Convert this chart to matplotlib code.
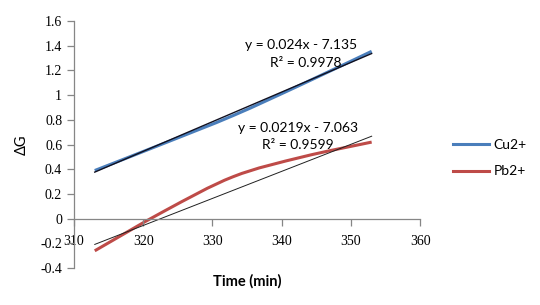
import matplotlib
matplotlib.use("Agg")
import matplotlib.pyplot as plt
from matplotlib.path import Path
from matplotlib.patches import PathPatch
import numpy as np

# tick labels in a serif face, everything else set to Lato below
plt.rcParams['font.family'] = ['Liberation Serif', 'DejaVu Serif']

time = [313, 323, 333, 343, 353]
cu = [0.39, 0.61, 0.835, 1.09, 1.355]
pb = [-0.26, 0.06, 0.34, 0.50, 0.62]

# trendline coefficients as shown on the chart
cu_fit = (0.024, -7.135)
pb_fit = (0.0219, -7.063)
cu_eq = ["y = 0.024x - 7.135", "R² = 0.9978"]
pb_eq = ["y = 0.0219x - 7.063", "R² = 0.9599"]


def smooth_path(xs, ys):
    # excel style smoothed line: catmull-rom as cubic bezier
    pts = np.column_stack([xs, ys]).astype(float)
    ext = np.vstack([pts[0], pts, pts[-1]])
    verts = [pts[0]]
    codes = [Path.MOVETO]
    for i in range(1, len(ext) - 2):
        p0, p1, p2, p3 = ext[i - 1], ext[i], ext[i + 1], ext[i + 2]
        verts += [p1 + (p2 - p0) / 6, p2 - (p3 - p1) / 6, p2]
        codes += [Path.CURVE4] * 3
    return Path(verts, codes)


fig = plt.figure(figsize=(5.4, 3.05), dpi=100)
ax = fig.add_axes([0.137, 0.121, 0.641, 0.810])

ax.add_patch(PathPatch(smooth_path(time, cu), fill=False, edgecolor='#4a7ebb', lw=2.2))
ax.add_patch(PathPatch(smooth_path(time, pb), fill=False, edgecolor='#be4b48', lw=2.2))

tx = np.array([time[0], time[-1]])
ax.plot(tx, cu_fit[0] * tx + cu_fit[1], color='#101020', lw=1.0)
ax.plot(tx, pb_fit[0] * tx + pb_fit[1], color='#202020', lw=0.7)

ax.plot([], [], color='#4a7ebb', lw=2.2, label='Cu2+')
ax.plot([], [], color='#be4b48', lw=2.2, label='Pb2+')

ax.set_xlim(310, 360)
ax.set_ylim(-0.4, 1.6)
ax.set_xticks([310, 320, 330, 340, 350, 360])
ax.set_yticks([-0.4, -0.2, 0, 0.2, 0.4, 0.6, 0.8, 1, 1.2, 1.4, 1.6])
ax.set_yticklabels(['-0.4', '-0.2', '0', '0.2', '0.4', '0.6', '0.8', '1', '1.2', '1.4', '1.6'])

for s in ['top', 'right']:
    ax.spines[s].set_visible(False)
ax.spines['bottom'].set_position(('data', 0))
for s in ['left', 'bottom']:
    ax.spines[s].set_color('#868686')
    ax.spines[s].set_linewidth(0.9)
ax.tick_params(direction='out', length=5, width=0.9, color='#868686', labelsize=10)
ax.tick_params(axis='x', pad=7)

fig.text(0.041, 0.525, 'ΔG', rotation=90, ha='center', va='center', fontsize=10.5, family='Lato')
fig.text(0.457, 0.078, 'Time (min)', ha='center', va='center', fontsize=10.5,
         fontweight='bold', family='Lato')

ax.text(342.8, 1.41, cu_eq[0], ha='center', va='center', fontsize=10, family='Lato')
ax.text(343.5, 1.26, cu_eq[1], ha='center', va='center', fontsize=10, family='Lato')
ax.text(342.3, 0.737, pb_eq[0], ha='center', va='center', fontsize=10, family='Lato')
ax.text(342.3, 0.60, pb_eq[1], ha='center', va='center', fontsize=10, family='Lato')

ax.legend(loc='center left', bbox_to_anchor=(1.06, 0.445), frameon=False,
          prop={'family': 'Lato', 'size': 10}, handlelength=2.6, handletextpad=0.3,
          labelspacing=1.05)

fig.savefig('out.png', dpi=100)
